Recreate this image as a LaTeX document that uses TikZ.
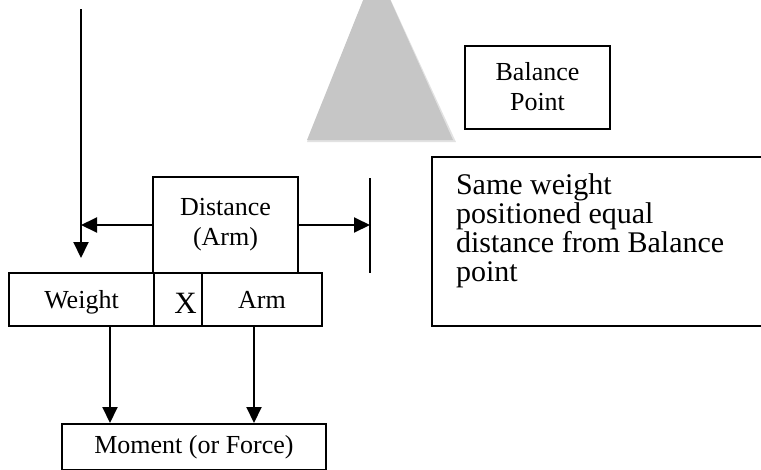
\documentclass[tikz,border=0pt]{standalone}
\usepackage{fontspec}
\setmainfont{Liberation Serif}
\usetikzlibrary{arrows.meta}
\definecolor{wedge}{RGB}{198,198,198}
\definecolor{wedgelit}{RGB}{226,226,226}
\begin{document}
\begin{tikzpicture}
[x=1pt,y=-1pt,line width=2pt,
bx/.style={draw,inner sep=0pt,align=center,font=\fontsize{26}{30}\selectfont},
row/.style={bx,minimum height=53,text height=20pt,text depth=3pt},
ar/.style={-{Triangle[length=16pt,width=15pt]}}]
\useasboundingbox(0,0)rectangle(761,469);\clip(0,0)rectangle(761,469);
% balance wedge
\fill[wedgelit](307,142)--(376,-32)--(456,142)--cycle;\fill[wedge](307,140)--(376,-32)--(453,140)--cycle;
\node(balance) at (537.5,87)[bx,minimum width=145,minimum height=83]{Balance\\Point};
\node(samebox) at (611,241.5)[draw,minimum width=358,minimum height=169]{};
\node(same) at (455,172.5)[anchor=north west,inner sep=0pt,align=left,font=\fontsize{30}{29}\selectfont]
{Same weight\\positioned equal\\distance from Balance\\point};
\node(dist) at (225.5,225)[bx,minimum width=145,minimum height=96]{Distance\\(Arm)};
\node(weight) at (81.5,299.5)[row,minimum width=145]{Weight};
\node(times) at (178,299.5)[row,minimum width=48,text height=27pt,text depth=0pt,font=\fontsize{31}{31}\selectfont]{\hspace*{15pt}X};
\node(arm) at (262,299.5)[row,minimum width=120]{Arm};
\node(moment) at (194,447)[bx,minimum width=264,minimum height=46]{Moment (or Force)};
\coordinate(ltop) at (81,9);\coordinate(lbot) at (81,258);\coordinate(btop) at (370,178);\coordinate(bbot) at (370,273);
\draw[ar](ltop)--(lbot);\draw(btop)--(bbot);
\draw[ar](dist.west)--(dist.west-|ltop);\draw[ar](dist.east)--(dist.east-|btop);
\draw[ar](weight.south-|110,0)--(moment.north-|110,0);\draw[ar](arm.south-|254,0)--(moment.north-|254,0);
\end{tikzpicture}
\end{document}
